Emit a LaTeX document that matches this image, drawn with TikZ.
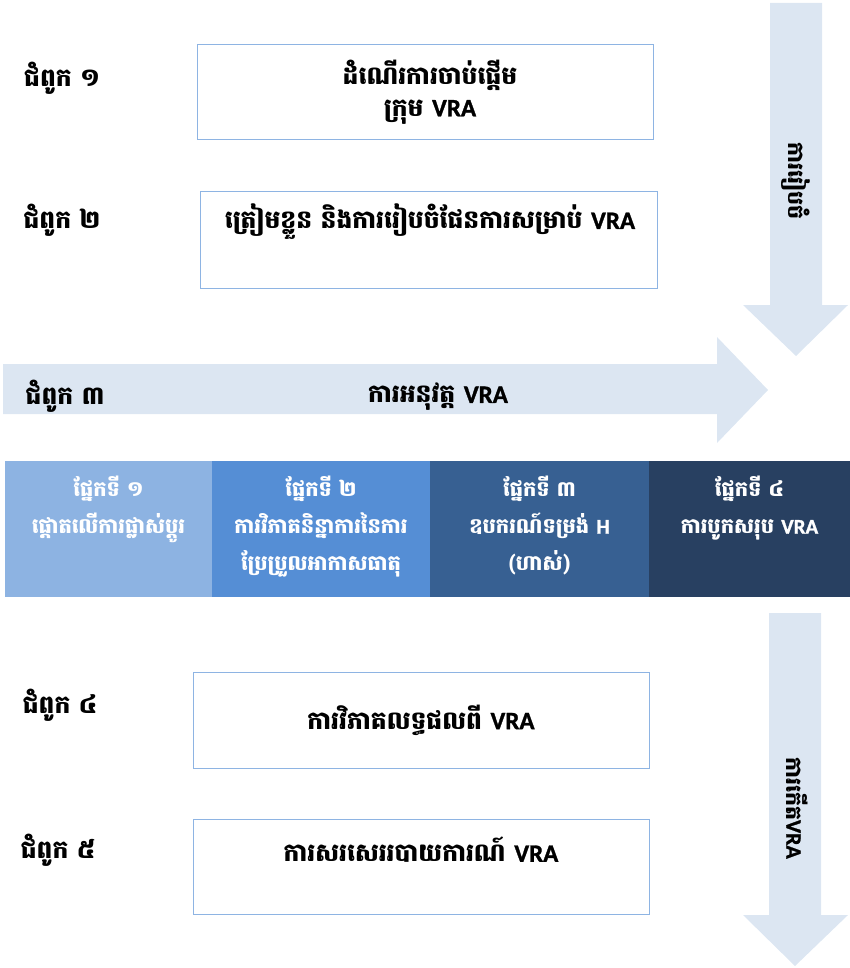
\documentclass[tikz,border=0pt]{standalone}
\usepackage{fontspec}
\newfontfamily\kh[Script=Khmer]{Battambang}
\newfontfamily\latb[UprightFont={* Bold}, FakeBold=1.2]{Carlito}
\newcommand{\vra}{{\latb VRA}}
\newcommand{\lath}{{\latb H}}
\definecolor{arrowfill}{HTML}{DCE6F2}
\definecolor{boxline}{HTML}{8EB4E3}
\definecolor{partA}{HTML}{8DB3E2}
\definecolor{partB}{HTML}{558ED5}
\definecolor{partC}{HTML}{376092}
\definecolor{partD}{HTML}{284061}
\tikzset{
  stagebox/.style={draw=boxline, line width=1pt, fill=white},
  lbl/.style={font=\kh\bfseries\fontsize{25}{29}\selectfont, text=black, inner sep=0pt},
  vlbl/.style={font=\kh\bfseries\fontsize{22}{26}\selectfont, text=black, inner sep=0pt, rotate=-90},
  boxtxt/.style={font=\kh\bfseries\fontsize{25}{29}\selectfont, text=black, inner sep=0pt, align=center},
  parttxt/.style={font=\kh\bfseries\fontsize{21}{37}\selectfont, text=white, inner sep=0pt, align=center},
  bigarrow/.style={fill=arrowfill, draw=none}
}
\begin{document}
\begin{tikzpicture}[x=1pt,y=-1pt]
\useasboundingbox (0,0) rectangle (850,968);
% phase arrows
\fill[bigarrow] (770,3) -- (822,3) -- (822,305) -- (848,305) -- (796,356) -- (743,305) -- (770,305) -- cycle;
\fill[bigarrow] (3,364) -- (717,364) -- (717,337) -- (768,390) -- (717,443) -- (717,414) -- (3,414) -- cycle;
\fill[bigarrow] (769,613) -- (821,613) -- (821,915) -- (848,915) -- (795,966) -- (743,915) -- (769,915) -- cycle;
\node[vlbl] (prep) at (796,181) {ការរៀបចំ};
\node[vlbl] (post) at (797,808) {ការកើត\vra};
% stage boxes
\draw[stagebox] (197,45) rectangle (653,140);
\node[boxtxt] (b1) at (430,75) {ដំណើរការចាប់ផ្តើម};
\node[boxtxt] (b1b) at (430,112) {ក្រុម \vra};
\draw[stagebox] (200,192) rectangle (657,288);
\node[boxtxt] (b2) at (430,222) {ត្រៀមខ្លួន និងការរៀបចំផែនការសម្រាប់ \vra};
\node[boxtxt] (b3) at (438,397) {ការអនុវត្ត \vra};
\draw[stagebox] (193,672) rectangle (649,768);
\node[boxtxt] (b4) at (421,720) {ការវិភាគលទ្ធផលពី \vra};
\draw[stagebox] (193,819) rectangle (649,914);
\node[boxtxt] (b5) at (421,850) {ការសរសេររបាយការណ៍ \vra};
% chapter labels
\node[lbl] (c1) at (62,78) {ជំពូក ១};
\node[lbl] (c2) at (62,220) {ជំពូក ២};
\node[lbl] (c3) at (65,396) {ជំពូក ៣};
\node[lbl] (c4) at (60,705) {ជំពូក ៤};
\node[lbl] (c5) at (58,850) {ជំពូក ៥};
% parts
\fill[partA] (5,461) rectangle (212,597);
\fill[partB] (212,461) rectangle (430,597);
\fill[partC] (430,461) rectangle (649,597);
\fill[partD] (649,461) rectangle (850,597);
\node[parttxt, anchor=north] (p1) at (108.5,476) {ផ្នែកទី ១\\ផ្តោតលើការផ្លាស់ប្តូរ};
\node[parttxt, anchor=north] (p2) at (321,476) {ផ្នែកទី ២\\ការវិភាគនិន្នាការនៃការ\\ប្រែប្រួលអាកាសធាតុ};
\node[parttxt, anchor=north] (p3) at (539.5,476) {ផ្នែកទី ៣\\ឧបករណ៍ទម្រង់ \lath\\(ហាស់)};
\node[parttxt, anchor=north] (p4) at (749.5,476) {ផ្នែកទី ៤\\ការបូកសរុប \vra};
\end{tikzpicture}
\end{document}
